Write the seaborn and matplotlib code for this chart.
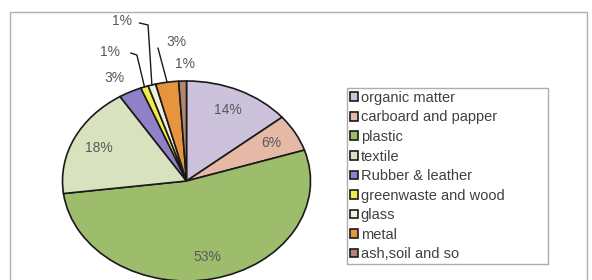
"""Pie chart of waste composition with a boxed legend on the right."""

import matplotlib
matplotlib.use("Agg")
import matplotlib.pyplot as plt
from matplotlib.patches import Rectangle
import numpy as np
import seaborn as sns

categories = [
    "organic matter",
    "carboard and papper",
    "plastic",
    "textile",
    "Rubber & leather",
    "greenwaste and wood",
    "glass",
    "metal",
    "ash,soil and so",
]
shares = [14, 6, 53, 18, 3, 1, 1, 3, 1]
colors = [
    "#cdc2dc", "#e6b9a6", "#9dbc6c", "#d8e2bf", "#8f80c8",
    "#f2ec48", "#efefdc", "#e6943e", "#b3876f",
]

# label layout for the thin slices: (text x, text y, leader points or None)
outside_labels = {
    4: ((-0.58, 1.03), None),
    5: ((-0.62, 1.29), [(-0.45, 1.28), (-0.40, 1.26)]),
    6: ((-0.52, 1.60), [(-0.38, 1.58), (-0.31, 1.56)]),
    7: ((-0.08, 1.39), [(-0.23, 1.33)]),
    8: ((-0.01, 1.17), None),
}

sns.set_theme(style="white")
plt.rcParams["font.family"] = ["Liberation Sans", "DejaVu Sans"]
text_color = "#595959"

W, H = 592, 280
fig = plt.figure(figsize=(W / 100, H / 100), dpi=100)

# outer chart frame
fig.patches.append(Rectangle((10 / W, -0.02), 577 / W, 1 - 12 / H + 0.02,
                             transform=fig.transFigure, fill=False,
                             edgecolor="#b0b0b0", linewidth=1.0))

# pie axes: centre (186.5, 181) px, radii 124 x 100 px, limits +-1.6
cx, cy, rx, ry, lim = 186.5, 181, 124, 100, 1.6
ax = fig.add_axes([(cx - lim * rx) / W, (H - cy - lim * ry) / H,
                   2 * lim * rx / W, 2 * lim * ry / H])

wedges, texts, autotexts = ax.pie(
    shares, colors=colors, startangle=90, counterclock=False,
    autopct="%1.0f%%", pctdistance=0.78,
    wedgeprops=dict(edgecolor="#1a1a1a", linewidth=1.2),
    textprops=dict(color=text_color, fontsize=10),
)
ax.set_aspect("auto")
ax.set_xlim(-lim, lim)
ax.set_ylim(-lim, lim)
ax.axis("off")

for idx, (pos, leader) in outside_labels.items():
    autotexts[idx].set_position(pos)
    if leader is not None:
        w = wedges[idx]
        mid = np.deg2rad((w.theta1 + w.theta2) / 2)
        pts = leader + [(np.cos(mid), np.sin(mid))]
        xs, ys = zip(*pts)
        ax.plot(xs, ys, color="#1a1a1a", linewidth=1.0, clip_on=False)

leg = fig.legend(
    wedges, categories, loc="upper left", mode="expand",
    bbox_to_anchor=(347 / W, 0, 201 / W, 1 - 88 / H),
    bbox_transform=fig.transFigure,
    borderaxespad=0, frameon=True, fancybox=False, fontsize=10.5,
    handlelength=0.55, handleheight=0.55, handletextpad=0.2,
    labelspacing=0.38, borderpad=0.2,
)
leg.get_frame().set_edgecolor("#999999")
leg.get_frame().set_linewidth(1.0)
for t in leg.get_texts():
    t.set_color("#404040")

fig.savefig("out.png", dpi=100)
